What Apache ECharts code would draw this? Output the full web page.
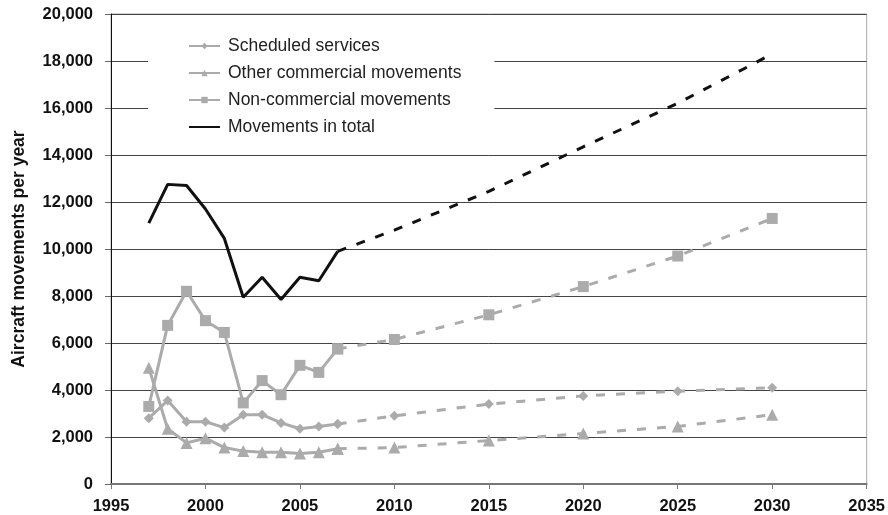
<!DOCTYPE html>
<html>
<head>
<meta charset="utf-8">
<script src="https://cdn.jsdelivr.net/npm/echarts@6/dist/echarts.min.js"></script>
<style>
  html, body { margin: 0; padding: 0; background: #fff; }
  #chart { width: 888px; height: 515px; }
</style>
</head>
<body>
<div id="chart"></div>
<script>
// Observed years
var yearsHist = [1997, 1998, 1999, 2000, 2001, 2002, 2003, 2004, 2005, 2006, 2007];
// Forecast years (start at 2007 to connect)
var yearsFcst = [2007, 2010, 2015, 2020, 2025, 2030];

var scheduledHist = [2800, 3550, 2650, 2650, 2400, 2950, 2950, 2600, 2350, 2450, 2550];
var scheduledFcst = [2550, 2900, 3400, 3750, 3950, 4100];

var otherHist = [4950, 2350, 1750, 1950, 1550, 1400, 1350, 1350, 1300, 1350, 1500];
var otherFcst = [1500, 1550, 1850, 2150, 2450, 2950];

var nonCommHist = [3300, 6750, 8200, 6950, 6450, 3450, 4400, 3800, 5050, 4750, 5750];
var nonCommFcst = [5750, 6150, 7200, 8400, 9700, 11300];

var totalHist = [11100, 12750, 12700, 11700, 10450, 7950, 8800, 7850, 8800, 8650, 9900];
var totalFcst = [9900, 10800, 12450, 14350, 16200, 18300];

var names = ['Scheduled services', 'Other commercial movements', 'Non-commercial movements', 'Movements in total'];
var yTitle = 'Aircraft movements per year';

function pairs(xs, ys) { return xs.map(function (x, i) { return [x, ys[i]]; }); }

var GRAY = '#ababab';
var BLACK = '#111111';
var FONT = 'Liberation Sans, Arial, Helvetica, sans-serif';

function mk(name, xs, ys, color, symbol, size, dashed) {
  return {
    name: name,
    type: 'line',
    data: pairs(xs, ys),
    symbol: symbol,
    symbolSize: size,
    showSymbol: symbol !== 'none',
    lineStyle: { color: color, width: 3, type: dashed ? [9, 11] : 'solid' },
    itemStyle: { color: color },
    animation: false,
    z: color === BLACK ? 3 : 2
  };
}

var series = [
  mk(names[0], yearsHist, scheduledHist, GRAY, 'diamond', 10, false),
  mk(names[1], yearsHist, otherHist, GRAY, 'triangle', 12, false),
  mk(names[2], yearsHist, nonCommHist, GRAY, 'rect', 11, false),
  mk(names[3], yearsHist, totalHist, BLACK, 'none', 0, false),
  mk(names[0] + ' forecast', yearsFcst, scheduledFcst, GRAY, 'diamond', 10, true),
  mk(names[1] + ' forecast', yearsFcst, otherFcst, GRAY, 'triangle', 12, true),
  mk(names[2] + ' forecast', yearsFcst, nonCommFcst, GRAY, 'rect', 11, true),
  mk(names[3] + ' forecast', yearsFcst, totalFcst, BLACK, 'none', 0, true)
];

var legendData = names.map(function (n, i) {
  if (i === 3) {
    return { name: n, itemStyle: { opacity: 0, color: 'rgba(0,0,0,0)', borderWidth: 0 } };
  }
  return { name: n };
});

var chart = echarts.init(document.getElementById('chart'), null, { renderer: 'canvas' });
chart.setOption({
  backgroundColor: '#fff',
  animation: false,
  textStyle: { fontFamily: FONT },
  grid: {
    left: 111, right: 21, top: 14, bottom: 31,
    show: true, borderColor: '#aaaaaa', borderWidth: 1, backgroundColor: 'transparent'
  },
  legend: {
    data: legendData,
    orient: 'vertical',
    left: 148,
    top: 29,
    padding: [8, 33, 10, 40],
    backgroundColor: '#ffffff',
    itemWidth: 31,
    itemHeight: 8,
    itemGap: 9,
    textStyle: { fontFamily: FONT, fontSize: 17.5, color: '#222', padding: [0, 0, 0, 3] },
    selectedMode: false
  },
  xAxis: {
    type: 'value',
    min: 1995, max: 2035, interval: 5,
    axisLine: { show: true, lineStyle: { color: '#777', width: 2 } },
    axisTick: { show: true, inside: false, length: 5, lineStyle: { color: '#777', width: 1 } },
    splitLine: { show: false },
    axisLabel: {
      fontFamily: FONT, fontSize: 16.5, fontWeight: 'bold', color: '#111', margin: 14,
      formatter: function (v) { return String(v); }
    }
  },
  yAxis: {
    type: 'value',
    min: 0, max: 20000, interval: 2000,
    name: yTitle,
    nameLocation: 'middle',
    nameRotate: 90,
    nameGap: 83,
    nameTextStyle: { fontFamily: FONT, fontSize: 17.5, fontWeight: 'bold', color: '#111' },
    axisLine: { show: true, lineStyle: { color: '#111', width: 1 } },
    axisTick: { show: true, inside: false, length: 6, lineStyle: { color: '#666', width: 1 } },
    splitLine: { show: true, lineStyle: { color: '#444', width: 1 } },
    axisLabel: {
      fontFamily: FONT, fontSize: 16.5, fontWeight: 'bold', color: '#111', margin: 18,
      formatter: function (v) { return v.toLocaleString('en-US'); }
    }
  },
  series: series
});
</script>
</body>
</html>
